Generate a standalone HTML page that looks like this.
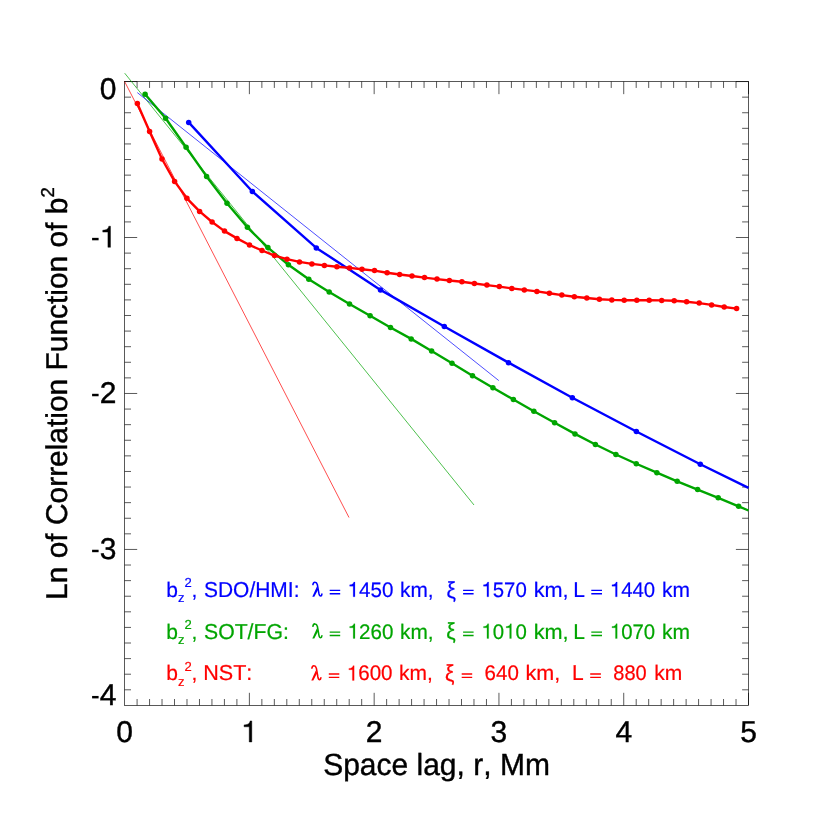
<!DOCTYPE html>
<html><head><meta charset="utf-8"><title>plot</title>
<style>
html,body{margin:0;padding:0;background:#fff;}
svg{display:block;will-change:transform;}
text{font-family:"Liberation Sans",sans-serif;white-space:pre;font-kerning:none;text-rendering:geometricPrecision;}
</style></head><body>
<svg width="830" height="830" viewBox="0 0 830 830">
<rect width="830" height="830" fill="#fff"/>

<g stroke="#000" stroke-width="0.65" fill="none">
<rect x="124.6" y="81.55" width="623.90" height="623.85"/>
<path d="M137.08 81.55v6.4M137.08 705.4v-6.4M149.56 81.55v6.4M149.56 705.4v-6.4M162.03 81.55v6.4M162.03 705.4v-6.4M174.51 81.55v6.4M174.51 705.4v-6.4M186.99 81.55v6.4M186.99 705.4v-6.4M199.47 81.55v6.4M199.47 705.4v-6.4M211.95 81.55v6.4M211.95 705.4v-6.4M224.42 81.55v6.4M224.42 705.4v-6.4M236.90 81.55v6.4M236.90 705.4v-6.4M249.38 81.55v12.6M249.38 705.4v-12.6M261.86 81.55v6.4M261.86 705.4v-6.4M274.34 81.55v6.4M274.34 705.4v-6.4M286.81 81.55v6.4M286.81 705.4v-6.4M299.29 81.55v6.4M299.29 705.4v-6.4M311.77 81.55v6.4M311.77 705.4v-6.4M324.25 81.55v6.4M324.25 705.4v-6.4M336.73 81.55v6.4M336.73 705.4v-6.4M349.20 81.55v6.4M349.20 705.4v-6.4M361.68 81.55v6.4M361.68 705.4v-6.4M374.16 81.55v12.6M374.16 705.4v-12.6M386.64 81.55v6.4M386.64 705.4v-6.4M399.12 81.55v6.4M399.12 705.4v-6.4M411.59 81.55v6.4M411.59 705.4v-6.4M424.07 81.55v6.4M424.07 705.4v-6.4M436.55 81.55v6.4M436.55 705.4v-6.4M449.03 81.55v6.4M449.03 705.4v-6.4M461.51 81.55v6.4M461.51 705.4v-6.4M473.98 81.55v6.4M473.98 705.4v-6.4M486.46 81.55v6.4M486.46 705.4v-6.4M498.94 81.55v12.6M498.94 705.4v-12.6M511.42 81.55v6.4M511.42 705.4v-6.4M523.90 81.55v6.4M523.90 705.4v-6.4M536.37 81.55v6.4M536.37 705.4v-6.4M548.85 81.55v6.4M548.85 705.4v-6.4M561.33 81.55v6.4M561.33 705.4v-6.4M573.81 81.55v6.4M573.81 705.4v-6.4M586.29 81.55v6.4M586.29 705.4v-6.4M598.76 81.55v6.4M598.76 705.4v-6.4M611.24 81.55v6.4M611.24 705.4v-6.4M623.72 81.55v12.6M623.72 705.4v-12.6M636.20 81.55v6.4M636.20 705.4v-6.4M648.68 81.55v6.4M648.68 705.4v-6.4M661.15 81.55v6.4M661.15 705.4v-6.4M673.63 81.55v6.4M673.63 705.4v-6.4M686.11 81.55v6.4M686.11 705.4v-6.4M698.59 81.55v6.4M698.59 705.4v-6.4M711.07 81.55v6.4M711.07 705.4v-6.4M723.54 81.55v6.4M723.54 705.4v-6.4M736.02 81.55v6.4M736.02 705.4v-6.4M748.50 81.55v12.6M748.50 705.4v-12.6M124.6 81.55h12.6M748.5 81.55h-12.6M124.6 97.15h6.4M748.5 97.15h-6.4M124.6 112.74h6.4M748.5 112.74h-6.4M124.6 128.34h6.4M748.5 128.34h-6.4M124.6 143.94h6.4M748.5 143.94h-6.4M124.6 159.53h6.4M748.5 159.53h-6.4M124.6 175.13h6.4M748.5 175.13h-6.4M124.6 190.72h6.4M748.5 190.72h-6.4M124.6 206.32h6.4M748.5 206.32h-6.4M124.6 221.92h6.4M748.5 221.92h-6.4M124.6 237.51h12.6M748.5 237.51h-12.6M124.6 253.11h6.4M748.5 253.11h-6.4M124.6 268.71h6.4M748.5 268.71h-6.4M124.6 284.30h6.4M748.5 284.30h-6.4M124.6 299.90h6.4M748.5 299.90h-6.4M124.6 315.49h6.4M748.5 315.49h-6.4M124.6 331.09h6.4M748.5 331.09h-6.4M124.6 346.69h6.4M748.5 346.69h-6.4M124.6 362.28h6.4M748.5 362.28h-6.4M124.6 377.88h6.4M748.5 377.88h-6.4M124.6 393.48h12.6M748.5 393.48h-12.6M124.6 409.07h6.4M748.5 409.07h-6.4M124.6 424.67h6.4M748.5 424.67h-6.4M124.6 440.26h6.4M748.5 440.26h-6.4M124.6 455.86h6.4M748.5 455.86h-6.4M124.6 471.46h6.4M748.5 471.46h-6.4M124.6 487.05h6.4M748.5 487.05h-6.4M124.6 502.65h6.4M748.5 502.65h-6.4M124.6 518.25h6.4M748.5 518.25h-6.4M124.6 533.84h6.4M748.5 533.84h-6.4M124.6 549.44h12.6M748.5 549.44h-12.6M124.6 565.03h6.4M748.5 565.03h-6.4M124.6 580.63h6.4M748.5 580.63h-6.4M124.6 596.23h6.4M748.5 596.23h-6.4M124.6 611.82h6.4M748.5 611.82h-6.4M124.6 627.42h6.4M748.5 627.42h-6.4M124.6 643.01h6.4M748.5 643.01h-6.4M124.6 658.61h6.4M748.5 658.61h-6.4M124.6 674.21h6.4M748.5 674.21h-6.4M124.6 689.80h6.4M748.5 689.80h-6.4"/>
</g>
<g stroke-width="0.7" fill="none">
<line x1="124.7" y1="81.7" x2="349" y2="517.5" stroke="#ff0000"/>
<line x1="124.7" y1="73.2" x2="474" y2="505" stroke="#00a500"/>
<line x1="137.3" y1="92.6" x2="498.8" y2="380.6" stroke="#0000ff"/>
</g>
<polyline points="188.7,122.4 252.35,191.5 316.3,247.9 380.5,289.9 444.3,326.5 508.5,362.65 572.35,397.75 636.35,431.45 700.3,464.3 748.5,487.9" fill="none" stroke="#0000ff" stroke-width="2.4" stroke-linejoin="round"/>
<g fill="#0000ff"><circle cx="188.7" cy="122.4" r="2.75"/><circle cx="252.35" cy="191.5" r="2.75"/><circle cx="316.3" cy="247.9" r="2.75"/><circle cx="380.5" cy="289.9" r="2.75"/><circle cx="444.3" cy="326.5" r="2.75"/><circle cx="508.5" cy="362.65" r="2.75"/><circle cx="572.35" cy="397.75" r="2.75"/><circle cx="636.35" cy="431.45" r="2.75"/><circle cx="700.3" cy="464.3" r="2.75"/></g>
<polyline points="145.1,94.2 165.6,118.3 186.1,147.2 206.6,176.4 227.0,203.3 247.4,227.3 267.9,247.6 288.4,264.8 308.8,279.3 329.2,292.0 349.5,304.0 370.1,315.7 390.5,327.5 411.2,338.9 431.6,351.0 452.0,363.2 472.5,375.7 492.9,387.8 513.4,399.5 533.85,411.3 554.6,422.7 575.0,433.9 595.4,444.5 615.9,454.5 636.25,463.75 656.85,472.65 677.2,481.3 697.6,489.6 718.2,497.8 738.6,506.3 748.5,510.5" fill="none" stroke="#00a500" stroke-width="2.4" stroke-linejoin="round"/>
<g fill="#00a500"><circle cx="145.1" cy="94.2" r="2.75"/><circle cx="165.6" cy="118.3" r="2.75"/><circle cx="186.1" cy="147.2" r="2.75"/><circle cx="206.6" cy="176.4" r="2.75"/><circle cx="227.0" cy="203.3" r="2.75"/><circle cx="247.4" cy="227.3" r="2.75"/><circle cx="267.9" cy="247.6" r="2.75"/><circle cx="288.4" cy="264.8" r="2.75"/><circle cx="308.8" cy="279.3" r="2.75"/><circle cx="329.2" cy="292.0" r="2.75"/><circle cx="349.5" cy="304.0" r="2.75"/><circle cx="370.1" cy="315.7" r="2.75"/><circle cx="390.5" cy="327.5" r="2.75"/><circle cx="411.2" cy="338.9" r="2.75"/><circle cx="431.6" cy="351.0" r="2.75"/><circle cx="452.0" cy="363.2" r="2.75"/><circle cx="472.5" cy="375.7" r="2.75"/><circle cx="492.9" cy="387.8" r="2.75"/><circle cx="513.4" cy="399.5" r="2.75"/><circle cx="533.85" cy="411.3" r="2.75"/><circle cx="554.6" cy="422.7" r="2.75"/><circle cx="575.0" cy="433.9" r="2.75"/><circle cx="595.4" cy="444.5" r="2.75"/><circle cx="615.9" cy="454.5" r="2.75"/><circle cx="636.25" cy="463.75" r="2.75"/><circle cx="656.85" cy="472.65" r="2.75"/><circle cx="677.2" cy="481.3" r="2.75"/><circle cx="697.6" cy="489.6" r="2.75"/><circle cx="718.2" cy="497.8" r="2.75"/><circle cx="738.6" cy="506.3" r="2.75"/></g>
<polyline points="137.35,103.5 149.6,131.5 162.0,159.0 174.6,181.4 186.9,198.3 199.6,211.4 212.1,222.0 224.5,231.1 237.0,238.4 249.5,245.0 262.0,250.5 274.5,255.6 287.0,259.2 299.5,261.9 311.9,263.9 324.4,265.4 336.9,266.7 349.5,267.9 362.0,269.3 374.5,270.6 387.1,272.7 399.6,274.5 412.0,276.0 424.5,277.6 437.0,279.1 449.4,280.5 461.9,281.8 474.4,283.5 486.9,285.1 499.3,286.6 511.8,288.4 524.3,289.9 536.9,291.4 549.4,293.2 561.8,295.1 574.3,296.7 586.8,298.0 599.4,299.2 611.8,299.9 624.2,300.3 636.8,300.3 649.2,300.3 661.7,300.4 674.2,300.8 686.6,301.8 699.2,303.1 711.6,304.9 724.2,307.0 736.6,308.6" fill="none" stroke="#ff0000" stroke-width="2.4" stroke-linejoin="round"/>
<g fill="#ff0000"><circle cx="137.35" cy="103.5" r="2.75"/><circle cx="149.6" cy="131.5" r="2.75"/><circle cx="162.0" cy="159.0" r="2.75"/><circle cx="174.6" cy="181.4" r="2.75"/><circle cx="186.9" cy="198.3" r="2.75"/><circle cx="199.6" cy="211.4" r="2.75"/><circle cx="212.1" cy="222.0" r="2.75"/><circle cx="224.5" cy="231.1" r="2.75"/><circle cx="237.0" cy="238.4" r="2.75"/><circle cx="249.5" cy="245.0" r="2.75"/><circle cx="262.0" cy="250.5" r="2.75"/><circle cx="274.5" cy="255.6" r="2.75"/><circle cx="287.0" cy="259.2" r="2.75"/><circle cx="299.5" cy="261.9" r="2.75"/><circle cx="311.9" cy="263.9" r="2.75"/><circle cx="324.4" cy="265.4" r="2.75"/><circle cx="336.9" cy="266.7" r="2.75"/><circle cx="349.5" cy="267.9" r="2.75"/><circle cx="362.0" cy="269.3" r="2.75"/><circle cx="374.5" cy="270.6" r="2.75"/><circle cx="387.1" cy="272.7" r="2.75"/><circle cx="399.6" cy="274.5" r="2.75"/><circle cx="412.0" cy="276.0" r="2.75"/><circle cx="424.5" cy="277.6" r="2.75"/><circle cx="437.0" cy="279.1" r="2.75"/><circle cx="449.4" cy="280.5" r="2.75"/><circle cx="461.9" cy="281.8" r="2.75"/><circle cx="474.4" cy="283.5" r="2.75"/><circle cx="486.9" cy="285.1" r="2.75"/><circle cx="499.3" cy="286.6" r="2.75"/><circle cx="511.8" cy="288.4" r="2.75"/><circle cx="524.3" cy="289.9" r="2.75"/><circle cx="536.9" cy="291.4" r="2.75"/><circle cx="549.4" cy="293.2" r="2.75"/><circle cx="561.8" cy="295.1" r="2.75"/><circle cx="574.3" cy="296.7" r="2.75"/><circle cx="586.8" cy="298.0" r="2.75"/><circle cx="599.4" cy="299.2" r="2.75"/><circle cx="611.8" cy="299.9" r="2.75"/><circle cx="624.2" cy="300.3" r="2.75"/><circle cx="636.8" cy="300.3" r="2.75"/><circle cx="649.2" cy="300.3" r="2.75"/><circle cx="661.7" cy="300.4" r="2.75"/><circle cx="674.2" cy="300.8" r="2.75"/><circle cx="686.6" cy="301.8" r="2.75"/><circle cx="699.2" cy="303.1" r="2.75"/><circle cx="711.6" cy="304.9" r="2.75"/><circle cx="724.2" cy="307.0" r="2.75"/><circle cx="736.6" cy="308.6" r="2.75"/></g>
<g fill="#000" stroke="#000" stroke-width="0.4">
<text transform="translate(124.60,742.00) scale(1.0000,1.0000)" font-size="30" text-anchor="middle">0</text>
<path transform="translate(241.04,742.00) scale(0.03000,-0.03000)" d="M359 0L359 703L302 703C290 640 255 575 101 570L101 506L273 506L273 0Z" vector-effect="non-scaling-stroke"/>
<text transform="translate(374.16,742.00) scale(1.0000,1.0000)" font-size="30" text-anchor="middle">2</text>
<text transform="translate(498.94,742.00) scale(1.0000,1.0000)" font-size="30" text-anchor="middle">3</text>
<text transform="translate(623.72,742.00) scale(1.0000,1.0000)" font-size="30" text-anchor="middle">4</text>
<text transform="translate(748.50,742.00) scale(1.0000,1.0000)" font-size="30" text-anchor="middle">5</text>
<text transform="translate(116.40,99.30) scale(1.0000,1.0000)" font-size="30" text-anchor="end">0</text>
<rect x="92.1" y="237.85" width="6.5" height="2.45" stroke="none"/>
<path transform="translate(99.72,247.30) scale(0.03000,-0.03000)" d="M359 0L359 703L302 703C290 640 255 575 101 570L101 506L273 506L273 0Z" vector-effect="non-scaling-stroke"/>
<rect x="92.1" y="393.80" width="6.5" height="2.45" stroke="none"/>
<text transform="translate(116.40,403.25) scale(1.0000,1.0000)" font-size="30" text-anchor="end">2</text>
<rect x="92.1" y="549.75" width="6.5" height="2.45" stroke="none"/>
<text transform="translate(116.40,559.20) scale(1.0000,1.0000)" font-size="30" text-anchor="end">3</text>
<rect x="92.1" y="695.95" width="6.5" height="2.45" stroke="none"/>
<text transform="translate(116.40,705.40) scale(1.0000,1.0000)" font-size="30" text-anchor="end">4</text>
<text transform="translate(436.50,774.50) scale(1.0000,1.0200)" font-size="30" text-anchor="middle">Space lag, r, Mm</text>
<text transform="translate(67.3,599.9) rotate(-90) scale(0.997,1.0)" font-size="30">Ln of Correlation Function of b<tspan font-size="18.6" dy="-13.8">2</tspan></text>
</g>
<g fill="#0000ff" stroke="#0000ff" stroke-width="0.2">
<text x="166.2" y="596.8" font-size="21.0">b<tspan font-size="13.0" dy="5.3">z</tspan><tspan font-size="13.0" dy="-14.85">2</tspan><tspan dy="9.55">,</tspan></text>
<text transform="translate(204.00,596.80) scale(0.9979,1.0300)" font-size="21.0">SDO/HMI:</text>
<g transform="translate(312.20,596.80)"><path fill="none" stroke-width="1.55" stroke-linecap="round" d="M0.7,-12.2C1.0,-14.0 2.0,-14.7 2.9,-14.6C4.2,-14.5 4.8,-13.4 5.2,-12.0L6.7,-3.4C7.1,-1.4 7.7,-0.8 8.5,-0.8C9.3,-0.8 9.6,-1.6 9.7,-2.7"/><path stroke="none" d="M4.6,-10.0L6.0,-7.4L2.1,0L0.1,0Z"/></g>
<path stroke="none" d="M329.70 589.72h10.50v1.35h-10.50zM329.70 593.12h10.50v1.35h-10.50z"/>
<path transform="translate(347.57,596.80) scale(0.02058,-0.02100)" d="M359 0L359 703L302 703C290 640 255 575 101 570L101 506L273 506L273 0Z" vector-effect="non-scaling-stroke"/><text transform="translate(359.02,596.80) scale(0.9800,1.0000)" font-size="21.0">450</text>
<text transform="translate(400.05,596.80) scale(0.9926,1.0000)" font-size="21.0">km,</text>
<text transform="translate(446.38,597.60) scale(1.0000,1.1000)" font-size="21.0">ξ</text>
<path stroke="none" d="M463.10 589.72h10.50v1.35h-10.50zM463.10 593.12h10.50v1.35h-10.50z"/>
<path transform="translate(481.39,596.80) scale(0.02039,-0.02100)" d="M359 0L359 703L302 703C290 640 255 575 101 570L101 506L273 506L273 0Z" vector-effect="non-scaling-stroke"/><text transform="translate(492.73,596.80) scale(0.9709,1.0000)" font-size="21.0">570</text>
<text transform="translate(533.69,596.80) scale(1.0319,1.0000)" font-size="21.0">km,</text>
<text transform="translate(573.35,596.80) scale(1.0000,1.0300)" font-size="21.0">L</text>
<path stroke="none" d="M591.30 589.72h10.70v1.35h-10.70zM591.30 593.12h10.70v1.35h-10.70z"/>
<path transform="translate(609.90,596.80) scale(0.02034,-0.02100)" d="M359 0L359 703L302 703C290 640 255 575 101 570L101 506L273 506L273 0Z" vector-effect="non-scaling-stroke"/><text transform="translate(621.21,596.80) scale(0.9686,1.0000)" font-size="21.0">440</text>
<text transform="translate(661.99,596.80) scale(1.0000,1.0000)" font-size="21.0">km</text>
</g>
<g fill="#00a500" stroke="#00a500" stroke-width="0.2">
<text x="166.2" y="638.5" font-size="21.0">b<tspan font-size="13.0" dy="5.3">z</tspan><tspan font-size="13.0" dy="-14.85">2</tspan><tspan dy="9.55">,</tspan></text>
<text transform="translate(203.99,638.50) scale(1.0107,1.0300)" font-size="21.0">SOT/FG:</text>
<g transform="translate(312.20,638.50)"><path fill="none" stroke-width="1.55" stroke-linecap="round" d="M0.7,-12.2C1.0,-14.0 2.0,-14.7 2.9,-14.6C4.2,-14.5 4.8,-13.4 5.2,-12.0L6.7,-3.4C7.1,-1.4 7.7,-0.8 8.5,-0.8C9.3,-0.8 9.6,-1.6 9.7,-2.7"/><path stroke="none" d="M4.6,-10.0L6.0,-7.4L2.1,0L0.1,0Z"/></g>
<path stroke="none" d="M329.70 631.42h10.50v1.35h-10.50zM329.70 634.82h10.50v1.35h-10.50z"/>
<path transform="translate(347.57,638.50) scale(0.02058,-0.02100)" d="M359 0L359 703L302 703C290 640 255 575 101 570L101 506L273 506L273 0Z" vector-effect="non-scaling-stroke"/><text transform="translate(359.02,638.50) scale(0.9800,1.0000)" font-size="21.0">260</text>
<text transform="translate(400.05,638.50) scale(0.9926,1.0000)" font-size="21.0">km,</text>
<text transform="translate(446.18,639.30) scale(1.0000,1.1000)" font-size="21.0">ξ</text>
<path stroke="none" d="M463.10 631.42h10.50v1.35h-10.50zM463.10 634.82h10.50v1.35h-10.50z"/>
<path transform="translate(481.39,638.50) scale(0.02039,-0.02100)" d="M359 0L359 703L302 703C290 640 255 575 101 570L101 506L273 506L273 0Z" vector-effect="non-scaling-stroke"/><text transform="translate(492.73,638.50) scale(0.9709,1.0000)" font-size="21.0">0</text><path transform="translate(504.07,638.50) scale(0.02039,-0.02100)" d="M359 0L359 703L302 703C290 640 255 575 101 570L101 506L273 506L273 0Z" vector-effect="non-scaling-stroke"/><text transform="translate(515.41,638.50) scale(0.9709,1.0000)" font-size="21.0">0</text>
<text transform="translate(533.69,638.50) scale(1.0319,1.0000)" font-size="21.0">km,</text>
<text transform="translate(573.35,638.50) scale(1.0000,1.0300)" font-size="21.0">L</text>
<path stroke="none" d="M591.30 631.42h10.70v1.35h-10.70zM591.30 634.82h10.70v1.35h-10.70z"/>
<path transform="translate(609.90,638.50) scale(0.02034,-0.02100)" d="M359 0L359 703L302 703C290 640 255 575 101 570L101 506L273 506L273 0Z" vector-effect="non-scaling-stroke"/><text transform="translate(621.21,638.50) scale(0.9686,1.0000)" font-size="21.0">070</text>
<text transform="translate(661.99,638.50) scale(1.0000,1.0000)" font-size="21.0">km</text>
</g>
<g fill="#ff0000" stroke="#ff0000" stroke-width="0.2">
<text x="166.2" y="680.4" font-size="21.0">b<tspan font-size="13.0" dy="5.3">z</tspan><tspan font-size="13.0" dy="-14.85">2</tspan><tspan dy="9.55">,</tspan></text>
<text transform="translate(203.18,680.40) scale(1.0273,1.0300)" font-size="21.0">NST:</text>
<g transform="translate(311.20,680.40)"><path fill="none" stroke-width="1.55" stroke-linecap="round" d="M0.7,-12.2C1.0,-14.0 2.0,-14.7 2.9,-14.6C4.2,-14.5 4.8,-13.4 5.2,-12.0L6.7,-3.4C7.1,-1.4 7.7,-0.8 8.5,-0.8C9.3,-0.8 9.6,-1.6 9.7,-2.7"/><path stroke="none" d="M4.6,-10.0L6.0,-7.4L2.1,0L0.1,0Z"/></g>
<path stroke="none" d="M328.80 673.32h10.50v1.35h-10.50zM328.80 676.72h10.50v1.35h-10.50z"/>
<path transform="translate(346.77,680.40) scale(0.02058,-0.02100)" d="M359 0L359 703L302 703C290 640 255 575 101 570L101 506L273 506L273 0Z" vector-effect="non-scaling-stroke"/><text transform="translate(358.22,680.40) scale(0.9800,1.0000)" font-size="21.0">600</text>
<text transform="translate(399.04,680.40) scale(0.9992,1.0000)" font-size="21.0">km,</text>
<text transform="translate(444.88,681.20) scale(1.0000,1.1000)" font-size="21.0">ξ</text>
<path stroke="none" d="M461.70 673.32h10.50v1.35h-10.50zM461.70 676.72h10.50v1.35h-10.50z"/>
<text transform="translate(484.61,680.40) scale(0.9773,1.0000)" font-size="21.0">640</text>
<text transform="translate(525.60,680.40) scale(1.0254,1.0000)" font-size="21.0">km,</text>
<text transform="translate(571.95,680.40) scale(1.0000,1.0300)" font-size="21.0">L</text>
<path stroke="none" d="M590.20 673.32h10.70v1.35h-10.70zM590.20 676.72h10.70v1.35h-10.70z"/>
<text transform="translate(613.28,680.40) scale(0.9518,1.0000)" font-size="21.0">880</text>
<text transform="translate(654.34,680.40) scale(1.0000,1.0000)" font-size="21.0">km</text>
</g>
</svg></body></html>
